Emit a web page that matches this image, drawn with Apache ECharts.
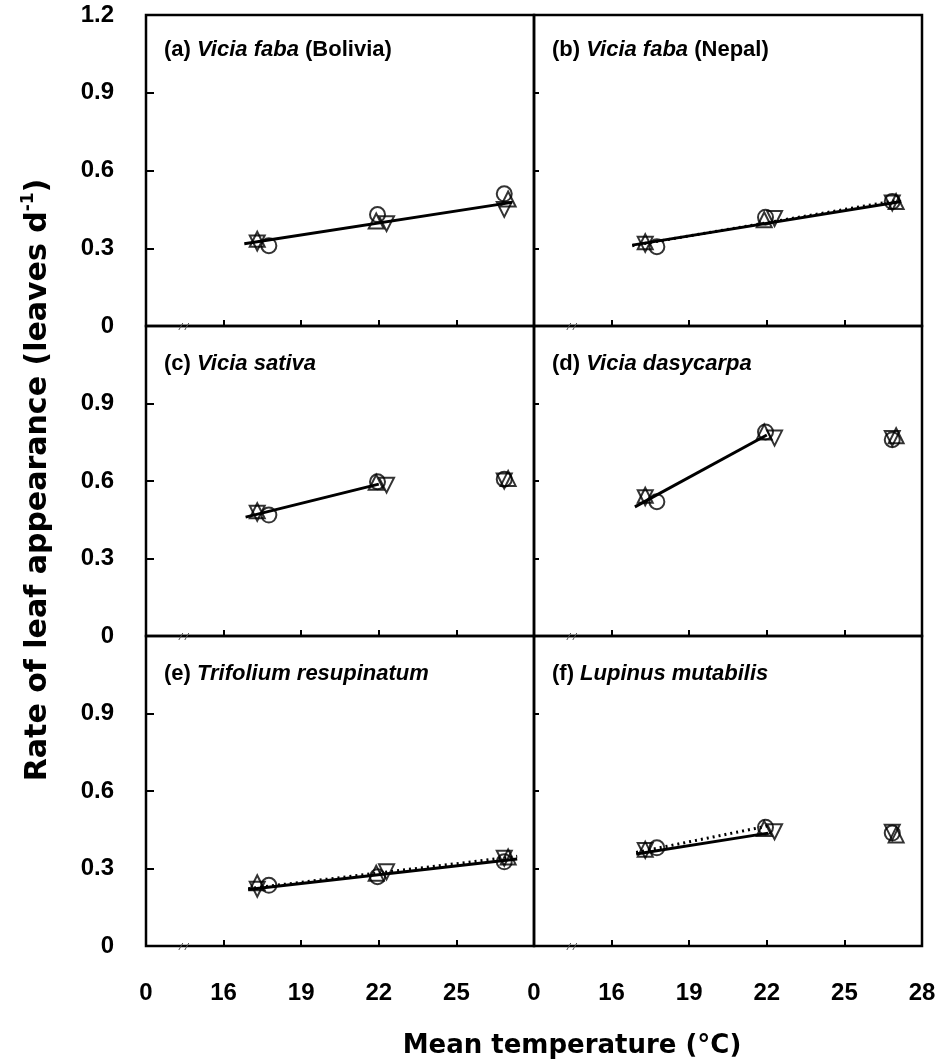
<!DOCTYPE html>
<html>
<head>
<meta charset="utf-8">
<script src="https://cdn.jsdelivr.net/npm/echarts@6/dist/echarts.min.js"></script>
<style>
  html, body { margin: 0; padding: 0; background: #fff; }
  #chart { width: 943px; height: 1064px; }
</style>
</head>
<body>
<div id="chart"></div>
<script>
// panel captions
var panelLetters = ['(a)', '(b)', '(c)', '(d)', '(e)', '(f)'];
var panelSpecies = ['Vicia faba', 'Vicia faba', 'Vicia sativa', 'Vicia dasycarpa', 'Trifolium resupinatum', 'Lupinus mutabilis'];
var panelSites = ['(Bolivia)', '(Nepal)', '', '', '', ''];

// mean temperature (deg C) of the three environments, per symbol
var tempCircle = [17.75, 21.95, 26.85];
var tempUp = [17.3, 21.9, 27.0];
var tempDown = [17.3, 22.3, 26.85];

// rate of leaf appearance (leaves/d), one row per panel
var rateCircle = [
  [0.31, 0.43, 0.51],
  [0.306, 0.42, 0.48],
  [0.468, 0.597, 0.607],
  [0.52, 0.79, 0.76],
  [0.235, 0.268, 0.326],
  [0.38, 0.46, 0.437]
];
var rateUp = [
  [0.335, 0.405, 0.49],
  [0.325, 0.41, 0.48],
  [0.485, 0.595, 0.61],
  [0.545, 0.79, 0.775],
  [0.245, 0.282, 0.345],
  [0.375, 0.455, 0.43]
];
var rateDown = [
  [0.32, 0.395, 0.45],
  [0.315, 0.415, 0.475],
  [0.475, 0.584, 0.6],
  [0.535, 0.766, 0.765],
  [0.22, 0.287, 0.34],
  [0.37, 0.442, 0.44]
];

// fitted lines: [start, end] temperature and rate
var solidFitX = [[16.8, 27.15], [16.8, 27.2], [16.85, 22.0], [16.9, 22.0], [16.95, 27.35], [16.95, 22.05]];
var solidFitY = [[0.317, 0.477], [0.312, 0.48], [0.46, 0.588], [0.5, 0.778], [0.219, 0.337], [0.356, 0.437]];
var dottedFitX = [null, [16.8, 27.2], null, null, [16.95, 27.35], [16.95, 22.05]];
var dottedFitY = [null, [0.31, 0.487], null, null, [0.222, 0.347], [0.362, 0.465]];

// axes
var xTickValues = [16, 19, 22, 25];
var xLabelLeft = [13, 16, 19, 22, 25];
var xLabelRight = [13, 16, 19, 22, 25, 28];
var breakAt = 14.5;

var font = 'Liberation Sans, Arial, Helvetica, sans-serif';
var titleFont = 'DejaVu Sans, Verdana, sans-serif';
var colLeft = [146, 534];
var colWidth = 388;
var rowTop = [15, 326, 636];
var rowHeight = [311, 310, 310];

var grids = [], xAxes = [], yAxes = [], series = [], titles = [];

function pairs(xs, ys) {
  return xs.map(function (x, k) { return [x, ys[k]]; });
}

for (var i = 0; i < 6; i++) {
  var r = Math.floor(i / 2), c = i % 2;
  grids.push({
    left: colLeft[c], top: rowTop[r], width: colWidth, height: rowHeight[r],
    show: true, borderColor: '#000', borderWidth: 2.5, backgroundColor: 'transparent'
  });
  xAxes.push({
    type: 'value', gridIndex: i, min: 13, max: 28,
    axisLine: { show: false },
    splitLine: { show: false },
    axisTick: {
      show: true, inside: true, length: 6, customValues: xTickValues,
      lineStyle: { color: '#000', width: 2 }
    },
    axisLabel: {
      show: r === 2,
      customValues: c === 0 ? xLabelLeft : xLabelRight,
      formatter: function (v) { return v === 13 ? '0' : String(v); },
      margin: 35, fontSize: 24, fontWeight: 'bold', color: '#000', fontFamily: font
    }
  });
  yAxes.push({
    type: 'value', gridIndex: i, min: 0, max: 1.2, interval: 0.3,
    axisLine: { show: false },
    splitLine: { show: false },
    axisTick: { show: true, inside: true, length: c === 0 ? 8 : 5, lineStyle: { color: '#000', width: 2 } },
    axisLabel: {
      show: c === 0, showMaxLabel: r === 0, showMinLabel: true,
      formatter: function (v) { return v === 0 ? '0' : v.toFixed(1); },
      margin: 32, fontSize: 24, fontWeight: 'bold', color: '#000', fontFamily: font
    }
  });

  var caption = '{n|' + panelLetters[i] + ' }{i|' + panelSpecies[i] + '}';
  if (panelSites[i]) caption += '{n| ' + panelSites[i] + '}';
  titles.push({
    left: colLeft[c] + 18, top: rowTop[r] + (r === 0 ? 22 : 25), padding: 0,
    text: caption,
    textStyle: {
      rich: {
        n: { fontSize: 22, fontWeight: 'bold', fontFamily: font, color: '#000', lineHeight: 26 },
        i: { fontSize: 22, fontWeight: 'bold', fontStyle: 'italic', fontFamily: font, color: '#000', lineHeight: 26 }
      }
    }
  });

  var openSymbol = { color: 'rgba(0,0,0,0)', borderColor: '#000', borderWidth: 2 };
  series.push({
    type: 'line', xAxisIndex: i, yAxisIndex: i, symbol: 'none', silent: true, z: 2,
    data: pairs(solidFitX[i], solidFitY[i]),
    lineStyle: { color: '#000', width: 3 }
  });
  if (dottedFitX[i]) {
    series.push({
      type: 'line', xAxisIndex: i, yAxisIndex: i, symbol: 'none', silent: true, z: 2,
      data: pairs(dottedFitX[i], dottedFitY[i]),
      lineStyle: { color: '#000', width: 3, type: [2, 4] }
    });
  }
  series.push({
    type: 'scatter', xAxisIndex: i, yAxisIndex: i, symbol: 'circle', symbolSize: 15, silent: true, z: 3,
    data: pairs(tempCircle, rateCircle[i]), itemStyle: openSymbol
  });
  series.push({
    type: 'scatter', xAxisIndex: i, yAxisIndex: i, symbol: 'triangle', symbolSize: 15, silent: true, z: 3,
    data: pairs(tempUp, rateUp[i]), itemStyle: openSymbol
  });
  series.push({
    type: 'scatter', xAxisIndex: i, yAxisIndex: i, symbol: 'triangle', symbolRotate: 180, symbolSize: 15, silent: true, z: 3,
    data: pairs(tempDown, rateDown[i]), itemStyle: openSymbol
  });
}

var chart = echarts.init(document.getElementById('chart'));
chart.setOption({
  animation: false,
  backgroundColor: '#fff',
  title: titles,
  grid: grids,
  xAxis: xAxes,
  yAxis: yAxes,
  series: series,
  graphic: [
    {
      type: 'text', id: 'ytitle', x: 38, y: 480, rotation: Math.PI / 2,
      style: {
        text: '{a|Rate of leaf appearance (leaves d}{s|-1}{a|)}',
        align: 'center', verticalAlign: 'middle',
        rich: {
          a: { fontSize: 30, fontWeight: 'bold', fontFamily: titleFont, fill: '#000', lineHeight: 36 },
          s: { fontSize: 17, fontWeight: 'bold', fontFamily: titleFont, fill: '#000', lineHeight: 17, verticalAlign: 'top' }
        }
      }
    },
    {
      type: 'text', id: 'xtitle', x: 572, y: 1046,
      style: {
        text: 'Mean temperature (\u00B0C)',
        fontSize: 26, fontWeight: 'bold', fontFamily: titleFont, fill: '#000',
        align: 'center', verticalAlign: 'middle'
      }
    }
  ]
});

// small "//" axis-break marks near the left end of every x axis
var marks = [];
for (var g = 0; g < 6; g++) {
  var p = chart.convertToPixel({ gridIndex: g }, [breakAt, 0]);
  for (var k = 0; k < 2; k++) {
    marks.push({
      type: 'line', id: 'brk' + g + '_' + k, z: 10,
      shape: { x1: p[0] - 6 + k * 6, y1: p[1] + 4, x2: p[0] - 2 + k * 6, y2: p[1] - 3 },
      style: { stroke: '#555', lineWidth: 1 }
    });
  }
}
chart.setOption({ graphic: marks });

window.addEventListener('resize', function () {
  chart.resize();
});
</script>
</body>
</html>
